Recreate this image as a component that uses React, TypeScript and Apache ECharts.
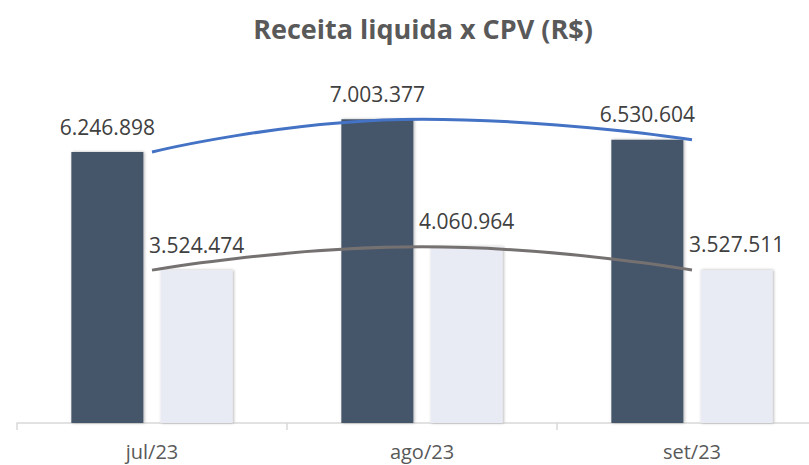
import React, { useEffect, useRef } from "react";
import * as echarts from "echarts";

const categories = ["jul/23", "ago/23", "set/23"];
const receita = [6246898, 7003377, 6530604];
const cpv = [3524474, 4060964, 3527511];

const fmt = (v: number) => v.toLocaleString("de-DE");

export default function App() {
  const ref = useRef<HTMLDivElement>(null);
  useEffect(() => {
    const chart = echarts.init(ref.current!, undefined, { renderer: "svg" });
    const labelStyle = {
      show: true,
      position: "top" as const,
      distance: 15,
      fontFamily: "Open Sans",
      fontSize: 21,
      color: "#404040",
      formatter: (p: any) => fmt(p.value),
    };
    chart.setOption({
      animation: false,
      backgroundColor: "#ffffff",
      title: {
        text: "Receita liquida x CPV (R$)",
        left: 418,
        top: 10,
        textAlign: "center",
        textStyle: {
          fontFamily: "Open Sans",
          fontWeight: "bold",
          fontSize: 27,
          color: "#595959",
        },
      },
      grid: {
        left: 17,
        width: 810,
        top: 76,
        bottom: 42,
        containLabel: false,
        outerBoundsMode: "none",
      },
      xAxis: {
        type: "category",
        data: categories,
        axisLine: { lineStyle: { color: "#D9D9D9", width: 1.5 } },
        axisTick: { show: true, length: 7, lineStyle: { color: "#D9D9D9", width: 1.5 } },
        axisLabel: {
          fontFamily: "Open Sans",
          fontSize: 20,
          color: "#595959",
          margin: 18,
        },
      },
      yAxis: {
        type: "value",
        min: 0,
        max: 8000000,
        show: false,
        splitLine: { show: false },
      },
      series: [
        {
          type: "bar",
          data: receita,
          barWidth: 72,
          barGap: "24%",
          itemStyle: {
            color: "#44546A",
            shadowBlur: 3,
            shadowColor: "rgba(0,0,0,0.3)",
            shadowOffsetX: 1,
          },
          label: labelStyle,
          z: 2,
        },
        {
          type: "bar",
          data: cpv,
          barWidth: 72,
          itemStyle: {
            color: "#E8EAF4",
            shadowBlur: 3,
            shadowColor: "rgba(0,0,0,0.3)",
            shadowOffsetX: 1,
          },
          label: labelStyle,
          z: 2,
        },
        {
          type: "line",
          data: receita,
          smooth: 0.5,
          showSymbol: false,
          symbol: "none",
          lineStyle: { color: "#4472C4", width: 3 },
          z: 5,
        },
        {
          type: "line",
          data: cpv,
          smooth: 0.5,
          showSymbol: false,
          symbol: "none",
          lineStyle: { color: "#767171", width: 3 },
          z: 5,
        },
      ],
    });
    return () => chart.dispose();
  }, []);
  return <div ref={ref} style={{ width: 809, height: 465, position: "absolute", left: 0, top: 0 }} />;
}
